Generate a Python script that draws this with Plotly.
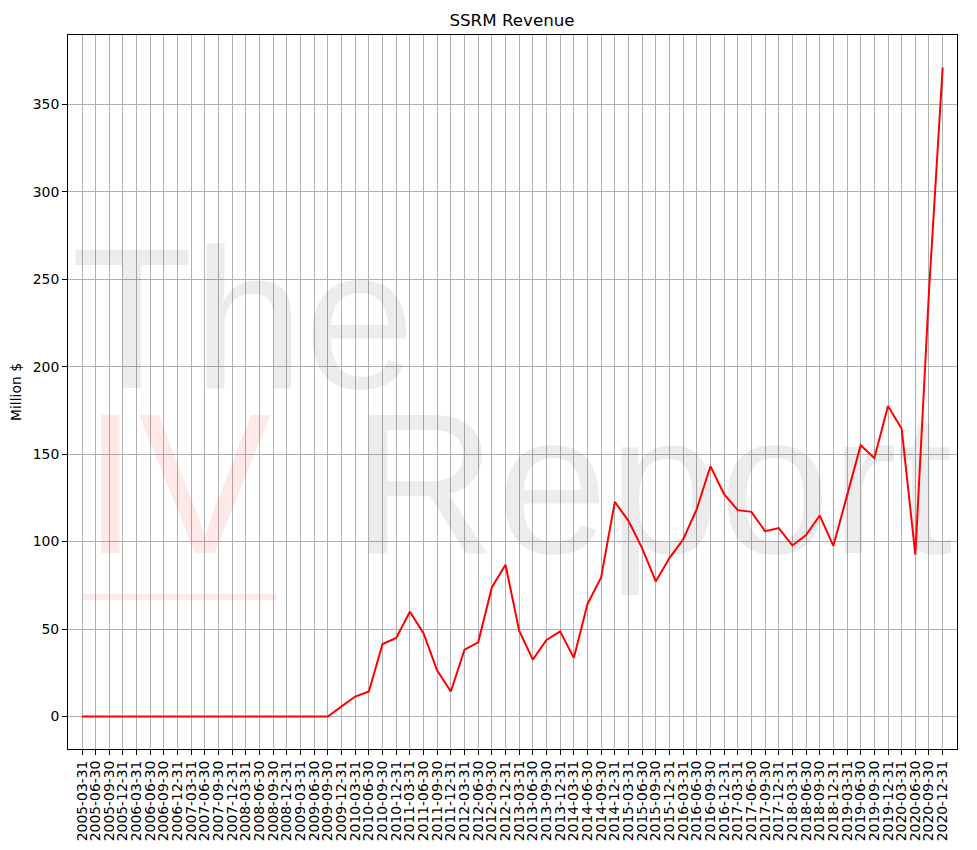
import plotly.graph_objects as go

dates = [
    "2005-03-31", "2005-06-30", "2005-09-30", "2005-12-31",
    "2006-03-31", "2006-06-30", "2006-09-30", "2006-12-31",
    "2007-03-31", "2007-06-30", "2007-09-30", "2007-12-31",
    "2008-03-31", "2008-06-30", "2008-09-30", "2008-12-31",
    "2009-03-31", "2009-06-30", "2009-09-30", "2009-12-31",
    "2010-03-31", "2010-06-30", "2010-09-30", "2010-12-31",
    "2011-03-31", "2011-06-30", "2011-09-30", "2011-12-31",
    "2012-03-31", "2012-06-30", "2012-09-30", "2012-12-31",
    "2013-03-31", "2013-06-30", "2013-09-30", "2013-12-31",
    "2014-03-31", "2014-06-30", "2014-09-30", "2014-12-31",
    "2015-03-31", "2015-06-30", "2015-09-30", "2015-12-31",
    "2016-03-31", "2016-06-30", "2016-09-30", "2016-12-31",
    "2017-03-31", "2017-06-30", "2017-09-30", "2017-12-31",
    "2018-03-31", "2018-06-30", "2018-09-30", "2018-12-31",
    "2019-03-31", "2019-06-30", "2019-09-30", "2019-12-31",
    "2020-03-31", "2020-06-30", "2020-09-30", "2020-12-31",
]

revenue = [
    0, 0, 0, 0,
    0, 0, 0, 0,
    0, 0, 0, 0,
    0, 0, 0, 0,
    0, 0, 0, 5.8,
    11.4, 14.3, 41.4, 44.9,
    59.9, 47.6, 26.3, 14.3,
    38.2, 42.4, 73.8, 86.8,
    49.1, 32.5, 43.8, 48.7,
    33.5, 64.3, 79.5, 122.7,
    111.9, 96.3, 77.2, 90.6,
    101.2, 118.5, 143.1, 127.1,
    118.0, 117.0, 106.0, 107.7,
    97.8, 103.7, 114.9, 97.6,
    126.0, 155.1, 147.7, 177.5,
    164.5, 92.5, 243.0, 371.1,
]

y_ticks = [0, 50, 100, 150, 200, 250, 300, 350]

x_idx = list(range(len(dates)))
x_range = [-1.025, 64.05]
y_range = [-18.6, 389.7]

FONT = "DejaVu Sans"
WM_FONT = "Liberation Sans"


def fx(frac):
    return x_range[0] + frac * (x_range[1] - x_range[0])


def fy(frac):
    return y_range[0] + frac * (y_range[1] - y_range[0])


fig = go.Figure()

# watermark (decorative text, drawn beneath the data line)
wm_size = 200
fig.add_trace(go.Scatter(
    x=[fx(0.1969)], y=[fy(0.5756)], mode="text", text=["The"],
    textposition="middle center",
    textfont=dict(family=WM_FONT, size=wm_size, color="rgba(0,0,0,0.075)"),
    hoverinfo="skip", showlegend=False, cliponaxis=False,
))
fig.add_trace(go.Scatter(
    x=[fx(0.1226)], y=[fy(0.3445)], mode="text", text=["IV"],
    textposition="middle center",
    textfont=dict(family=WM_FONT, size=wm_size, color="rgba(255,0,0,0.09)"),
    hoverinfo="skip", showlegend=False, cliponaxis=False,
))
fig.add_trace(go.Scatter(
    x=[fx(0.6575)], y=[fy(0.3445)], mode="text", text=["Report"],
    textposition="middle center",
    textfont=dict(family=WM_FONT, size=wm_size, color="rgba(0,0,0,0.075)"),
    hoverinfo="skip", showlegend=False, cliponaxis=False,
))

fig.add_shape(type="rect", xref="paper", yref="paper",
              x0=0.0169, x1=0.2351, y0=0.2087, y1=0.2171,
              fillcolor="rgba(255,0,0,0.09)", line=dict(width=0), layer="above")

fig.add_trace(go.Scatter(
    x=x_idx, y=revenue, mode="lines",
    line=dict(color="#ff0000", width=2),
    showlegend=False,
))

W, H = 961, 834
fig.update_layout(
    width=W, height=H,
    margin=dict(l=60, r=12, t=27, b=93, autoexpand=False),
    paper_bgcolor="white", plot_bgcolor="white",
    font=dict(family=FONT, size=14, color="black"),
    title=dict(text="SSRM Revenue", x=504 / W, xanchor="center",
               y=1 - 12 / H, yanchor="middle",
               font=dict(family=FONT, size=16.7, color="black")),
    showlegend=False,
)

fig.update_xaxes(
    range=x_range, tickmode="array", tickvals=x_idx, ticktext=dates,
    tickangle=-90, ticks="outside", ticklen=5, tickcolor="black",
    tickfont=dict(family=FONT, size=13.9, color="black"),
    showgrid=True, gridcolor="#b0b0b0", gridwidth=1,
    showline=True, linecolor="black", linewidth=1, mirror=True,
    zeroline=False, automargin=False,
)
fig.update_yaxes(
    range=y_range, tickmode="array", tickvals=y_ticks,
    ticks="outside", ticklen=5, tickcolor="black",
    tickfont=dict(family=FONT, size=13.9, color="black"),
    title=dict(text="Million $", font=dict(family=FONT, size=13.9, color="black"), standoff=11),
    showgrid=True, gridcolor="#b0b0b0", gridwidth=1,
    showline=True, linecolor="black", linewidth=1, mirror=True,
    zeroline=False, automargin=False,
)

fig.write_html("out.html")
